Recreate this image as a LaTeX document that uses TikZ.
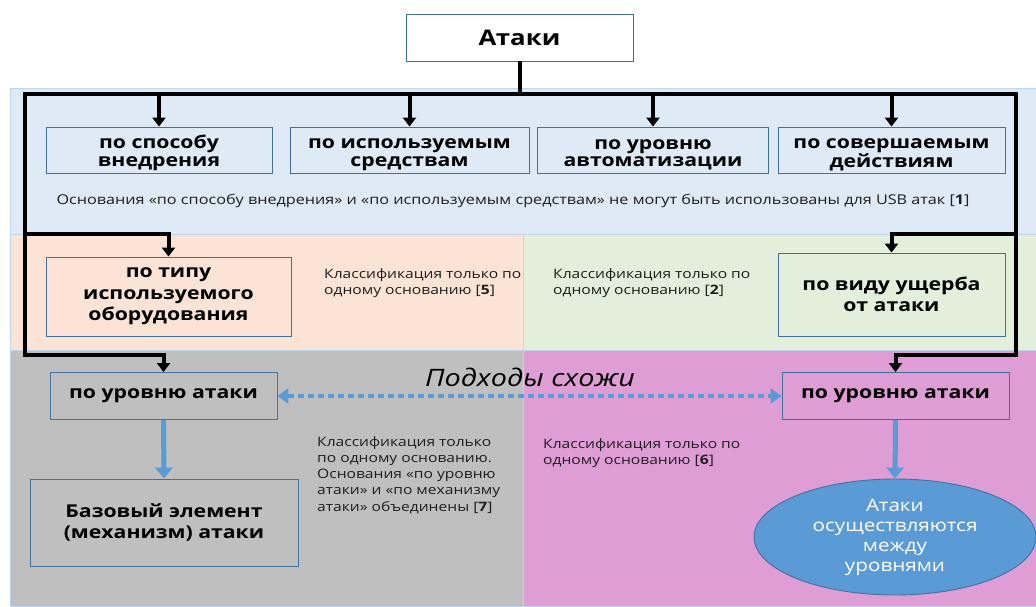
\documentclass[tikz,border=0pt]{standalone}
\usepackage{fontspec}
\setmainfont[FakeStretch=1.2]{Open Sans}
\usetikzlibrary{arrows.meta,shapes.geometric}
\definecolor{bandblue}{RGB}{222,234,246}
\definecolor{bandpeach}{RGB}{251,228,214}
\definecolor{bandgreen}{RGB}{227,239,218}
\definecolor{bandgray}{RGB}{191,191,191}
\definecolor{bandpink}{RGB}{222,158,213}
\definecolor{bandedge}{RGB}{190,213,236}
\definecolor{boxedge}{RGB}{65,113,156}
\definecolor{accent}{RGB}{91,155,213}
\definecolor{notecol}{RGB}{30,30,30}
\newcommand\lowerfix{\rule{0pt}{19pt}}
\tikzset{
  band/.style={draw=bandedge, line width=1pt},
  catbox/.style={draw=boxedge, line width=0.9pt, align=center, inner sep=0pt,
    font=\fontsize{17.7}{21.5}\selectfont\bfseries},
  rowbox/.style={catbox, minimum height=46pt, font=\fontsize{17.7}{17.5}\selectfont\bfseries},
  note/.style={align=left, anchor=north west, inner sep=0pt, text=notecol,
    font=\fontsize{13}{16.3}\selectfont},
  blk/.style={line width=4pt, black},
  blkarrow/.style={line width=4pt, black, -{Triangle[length=9pt,width=13pt]}},
  bluearrow/.style={line width=5pt, accent, -{Triangle[length=11pt,width=17pt]}},
  dotarrow/.style={line width=4pt, accent, dash pattern=on 6pt off 4pt,
    {Triangle[length=11pt,width=15pt]}-{Triangle[length=11pt,width=15pt]}},
}
\begin{document}
\begin{tikzpicture}[x=1pt,y=-1pt]
\useasboundingbox (0,0) rectangle (1036,606);
% bands
\fill[white] (0,0) rectangle (1036,606);
\filldraw[band, fill=bandblue] (10,88) rectangle (1036,234);
\filldraw[band, fill=bandpeach] (10,234) rectangle (523,350);
\filldraw[band, fill=bandgreen] (523,234) rectangle (1036,350);
\filldraw[band, fill=bandgray] (10,350) rectangle (523,606);
\filldraw[band, fill=bandpink] (523,350) rectangle (1036,606);

% nodes
\node[catbox, fill=white, minimum width=227pt, minimum height=47pt,
  font=\fontsize{21.5}{24}\selectfont\bfseries] (top) at (519.5,37.5) {Атаки};
\node[rowbox, minimum width=226pt] (b1) at (159,150) {\lowerfix по способу\\внедрения};
\node[rowbox, minimum width=239pt] (b2) at (409.5,150) {\lowerfix по используемым\\средствам};
\node[rowbox, minimum width=231pt] (b3) at (653,150) {\lowerfix по уровню\\автоматизации};
\node[rowbox, minimum width=227pt] (b4) at (891.5,150) {\lowerfix по совершаемым\\действиям};

\node[catbox, minimum width=245pt, minimum height=79pt] (p) at (168.5,296.5) {по типу\\используемого\\оборудования};
\node[catbox, minimum width=227pt, minimum height=83pt] (g) at (891.5,294.5) {по виду ущерба\\от атаки};

\node[catbox, minimum width=227pt, minimum height=47pt] (lvlL) at (163.5,396) {по уровню атаки};
\node[catbox, minimum width=268pt, minimum height=87pt] (base) at (164,522.5) {Базовый элемент\\(механизм) атаки};
\node[catbox, minimum width=227pt, minimum height=47pt] (lvlR) at (895.5,396) {по уровню атаки};
\node[ellipse, draw=boxedge, line width=0.9pt, fill=accent, text=white, align=center,
  minimum width=282pt, minimum height=116pt, inner sep=0pt,
  font=\fontsize{17.2}{20}\selectfont] (ell) at (895,537) {Атаки\\осуществляются\\между\\уровнями};

% notes
\node[anchor=center, inner sep=0pt, text=notecol, font=\fontsize{13.5}{15}\selectfont] (n1) at (513,201)
  {Основания «по способу внедрения» и «по используемым средствам» не могут быть использованы для USB атак [\textbf{1}]};
\node[note] (n5) at (324,268) {Классификация только по\\одному основанию [\textbf{5}]};
\node[note] (n2) at (553,268) {Классификация только по\\одному основанию [\textbf{2}]};
\node[note] (n7) at (317,436) {Классификация только\\по одному основанию.\\Основания «по уровню\\атаки» и «по механизму\\атаки» объединены [\textbf{7}]};
\node[note] (n6) at (543,438) {Классификация только по\\одному основанию [\textbf{6}]};
\node[inner sep=0pt, font=\fontsize{24}{26}\selectfont\itshape] (sim) at (530,377) {Подходы схожи};

% black tree connectors
\coordinate (hub) at (519.5,94);
\coordinate (L) at (25,94);
\coordinate (R) at (1016,94);
\coordinate (Lmid) at (25,234);
\coordinate (Lbot) at (25,355);
\coordinate (Rmid) at (1016,234);
\coordinate (Rbot) at (1016,355);
\draw[blk] (top.south) -- (hub);
\draw[blk, line cap=rect] (Lbot) -- (L) -- (R) -- (Rbot);
\foreach \b in {b1,b2,b3,b4}
  \draw[blkarrow] (\b.north |- hub) -- (\b.north);
\draw[blkarrow] (Lmid) -| (p.north);
\draw[blkarrow] (Lbot) -| (lvlL.north);
\draw[blkarrow] (Rmid) -| (g.north);
\draw[blkarrow] (Rbot) -| (lvlR.north);

% blue connectors
\draw[bluearrow] (lvlL.south) -- (base.north);
\draw[bluearrow] (lvlR.south) -- (ell.north);
\draw[dotarrow] (lvlL.east) -- (lvlR.west);
\end{tikzpicture}
\end{document}
